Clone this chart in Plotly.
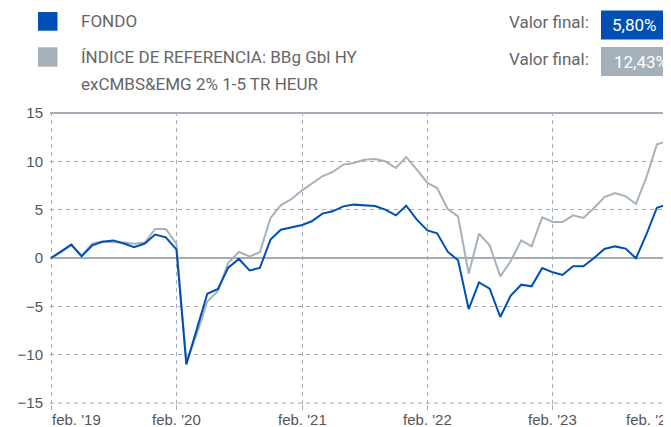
import plotly.graph_objects as go
import pandas as pd

# ---- data ----
dates = pd.date_range("2019-02-01", periods=61, freq="MS").strftime("%Y-%m-%d").tolist()
fondo = [0.0, 0.65, 1.38, 0.18, 1.3, 1.67, 1.82, 1.5, 1.12, 1.5, 2.43, 2.14, 0.9,
         -11.0, -7.3, -3.7, -3.2, -1.0, -0.1, -1.28, -1.03, 1.9, 2.93, 3.17, 3.41,
         3.8, 4.59, 4.83, 5.34, 5.52, 5.48, 5.38, 5.0, 4.41, 5.41, 3.97, 2.86, 2.55,
         0.65, -0.24, -5.28, -2.52, -3.17, -6.1, -3.9, -2.76, -2.93, -1.03, -1.48,
         -1.76, -0.86, -0.86, 0.0, 0.93, 1.2, 0.97, -0.03, 2.5, 5.2, 5.55, 5.80]
indice = [0.0, 0.55, 1.35, 0.2, 1.5, 1.7, 1.62, 1.6, 1.48, 1.6, 3.0, 3.0, 1.5,
          -10.8, -7.8, -4.5, -3.4, -0.5, 0.62, 0.17, 0.59, 4.14, 5.45, 6.1, 7.0,
          7.66, 8.45, 8.9, 9.66, 9.83, 10.17, 10.24, 10.0, 9.31, 10.45, 9.14, 7.76, 7.24,
          5.07, 4.31, -1.62, 2.52, 1.31, -1.9, -0.34, 1.83, 1.21, 4.21, 3.72,
          3.72, 4.41, 4.14, 5.17, 6.31, 6.72, 6.38, 5.59, 8.4, 11.75, 12.1, 12.43]
x_tickvals = ["2019-02-01", "2020-02-01", "2021-02-01", "2022-02-01", "2023-02-01", "2024-02-01"]
x_ticktext = ["feb. '19", "feb. '20", "feb. '21", "feb. '22", "feb. '23", "feb. '24"]
y_tickvals = [-15, -10, -5, 0, 5, 10, 15]
legend_fondo = "FONDO"
legend_indice = ["ÍNDICE DE REFERENCIA: BBg Gbl HY", "exCMBS&EMG 2% 1-5 TR HEUR"]
final_label = "Valor final:"
final_values = ["5,80%", "12,43%"]

BLUE = "#0050b4"
GRAY = "#a7b1ba"
GRID = "#a3adb7"

fig = go.Figure()
fig.add_trace(go.Scatter(x=dates, y=indice, mode="lines", line=dict(color=GRAY, width=2),
                         name=" ".join(legend_indice), showlegend=False))
fig.add_trace(go.Scatter(x=dates, y=fondo, mode="lines", line=dict(color=BLUE, width=2),
                         name=legend_fondo, showlegend=False))

# page has an 8px body margin; figure sized to fit the window
W, H = 663, 419
L, T, B = 42, 104, 23
pw, ph = W - L, H - T - B

def px(x):  # page pixel -> paper
    return (x - 8 - L) / pw

def py(y):
    return (H - B - (y - 8)) / ph

tfont = dict(family="Liberation Sans, Arial", size=15, color="#555")
fig.update_layout(
    width=W, height=H,
    margin=dict(l=L, r=0, t=T, b=B),
    plot_bgcolor="white", paper_bgcolor="white",
    xaxis=dict(type="date", range=["2019-01-29", "2024-01-11"], automargin=False,
               tickvals=x_tickvals, ticktext=[""] * len(x_tickvals),
               showgrid=True, gridcolor=GRID, griddash="4px,4px", gridwidth=1,
               ticks="outside", ticklen=5, tickcolor=GRID, tickwidth=1,
               tickfont=tfont, showline=False, zeroline=False),
    yaxis=dict(range=[-15.1, 15.1], tickvals=y_tickvals, automargin=False,
               showgrid=True, gridcolor=GRID, griddash="4px,4px", gridwidth=1,
               zeroline=True, zerolinecolor=GRID, zerolinewidth=2,
               tickfont=tfont, ticks="", showline=False, ticklabelstandoff=6),
)

# solid top line at 15, dashed bottom line at -15
fig.add_shape(type="line", xref="paper", yref="y", x0=0, x1=1, y0=15, y1=15,
              line=dict(color=GRID, width=2))
fig.add_shape(type="line", xref="paper", yref="y", x0=0, x1=1, y0=-15, y1=-15,
              line=dict(color=GRID, width=1, dash="4px,4px"))

# x labels: first left-aligned, middle centred on their dates, last pushed inside
ylab = py(409)
fig.add_annotation(xref="x", yref="paper", x=x_tickvals[0], y=ylab, text=x_ticktext[0],
                   showarrow=False, xanchor="left", yanchor="top", font=tfont, xshift=-1)
for tv, tt in zip(x_tickvals[1:-1], x_ticktext[1:-1]):
    fig.add_annotation(xref="x", yref="paper", x=tv, y=ylab, text=tt,
                       showarrow=False, xanchor="center", yanchor="top", font=tfont)
fig.add_annotation(xref="paper", yref="paper", x=px(624), y=ylab, text=x_ticktext[-1],
                   showarrow=False, xanchor="left", yanchor="top", font=tfont)

# legend squares
fig.add_shape(type="rect", xref="paper", yref="paper",
              x0=px(38), x1=px(57.5), y0=py(30.7), y1=py(12), fillcolor=BLUE, line_width=0)
fig.add_shape(type="rect", xref="paper", yref="paper",
              x0=px(38), x1=px(57.5), y0=py(66.7), y1=py(47.3), fillcolor="#a5b0b9", line_width=0)

lfont = dict(family="Roboto", size=17, color="#666")
fig.add_annotation(xref="paper", yref="paper", x=px(79), y=py(21.5), text=legend_fondo,
                   showarrow=False, xanchor="left", yanchor="middle", font=lfont)
fig.add_annotation(xref="paper", yref="paper", x=px(79), y=py(57.5), text=legend_indice[0],
                   showarrow=False, xanchor="left", yanchor="middle", font=lfont)
fig.add_annotation(xref="paper", yref="paper", x=px(79), y=py(84), text=legend_indice[1],
                   showarrow=False, xanchor="left", yanchor="middle", font=lfont)

# Valor final boxes
for i, (yc, col, x1) in enumerate([(25, BLUE, 667), (61.5, "#a5b0b9", 680)]):
    fig.add_annotation(xref="paper", yref="paper", x=px(591), y=py(yc - 3), text=final_label,
                       showarrow=False, xanchor="right", yanchor="middle", font=lfont)
    fig.add_shape(type="rect", xref="paper", yref="paper",
                  x0=px(601), x1=px(x1), y0=py(yc + 14.5), y1=py(yc - 14.5),
                  fillcolor=col, line_width=0)
    fig.add_annotation(xref="paper", yref="paper", x=px((601 + x1) / 2), y=py(yc), text=final_values[i],
                       showarrow=False, xanchor="center", yanchor="middle",
                       font=dict(family="Roboto", size=17, color="white"))

fig.write_html("out.html")
